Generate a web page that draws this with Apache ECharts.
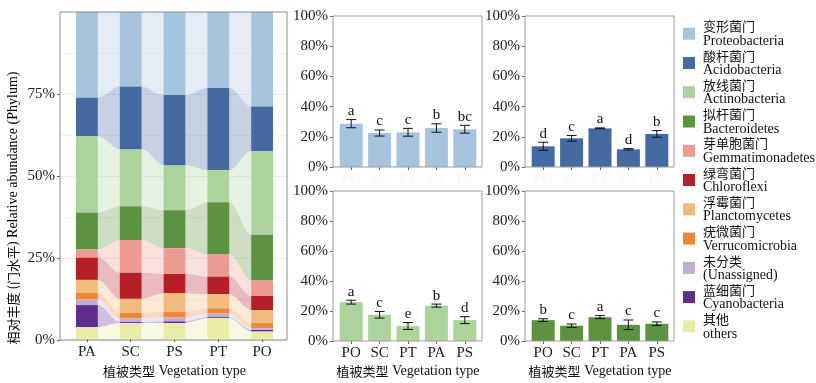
<!DOCTYPE html>
<html><head><meta charset="utf-8">
<script src="https://cdn.jsdelivr.net/npm/echarts@6/dist/echarts.min.js"></script>
<style>html,body{margin:0;padding:0;background:#fff}#c{width:816px;height:383px}</style>
</head><body><div id="c"></div>
<script>
// ---------- data ----------
const sites = ['PA', 'SC', 'PS', 'PT', 'PO'];
const phylaEN = ['Proteobacteria', 'Acidobacteria', 'Actinobacteria', 'Bacteroidetes', 'Gemmatimonadetes', 'Chloroflexi', 'Planctomycetes', 'Verrucomicrobia', '(Unassigned)', 'Cyanobacteria', 'others'];
const phylaCN = ['变形菌门', '酸杆菌门', '放线菌门', '拟杆菌门', '芽单胞菌门', '绿弯菌门', '浮霉菌门', '疣微菌门', '未分类', '蓝细菌门', '其他'];
const phylaColor = ['#a6c4de', '#436ba2', '#acd39c', '#5d9340', '#ec9b93', '#b71f27', '#f1bb7d', '#ee8636', '#c2aed5', '#5d2e8c', '#e8eca6'];

// relative abundance (%) per site, order PA, SC, PS, PT, PO
const proteobacteria   = [26.2, 22.8, 25.4, 23.2, 28.9];
const acidobacteria    = [11.8, 19.2, 21.5, 25.2, 13.6];
const actinobacteria   = [23.3, 17.4, 13.7,  9.8, 25.6];
const bacteroidetes    = [11.2, 10.3, 11.6, 15.9, 14.0];
const gemmatimonadetes = [ 2.6, 10.0,  7.9,  6.8,  4.7];
const chloroflexi      = [ 6.8,  8.0,  5.9,  5.4,  4.3];
const planctomycetes   = [ 4.0,  4.2,  5.7,  4.3,  4.0];
const verrucomicrobia  = [ 2.0,  1.8,  1.7,  1.5,  1.6];
const unassigned       = [ 1.7,  1.1,  1.2,  1.2,  0.5];
const cyanobacteria    = [ 6.7,  0.3,  0.5,  0.3,  0.5];
const others           = [ 3.7,  4.9,  4.9,  6.4,  2.3];
const phylaValues = [proteobacteria, acidobacteria, actinobacteria, bacteroidetes, gemmatimonadetes, chloroflexi, planctomycetes, verrucomicrobia, unassigned, cyanobacteria, others];

// small panels
const panelSites = ['PO', 'SC', 'PT', 'PA', 'PS'];
const proteoMean = [28.7, 22.5, 23.0, 25.8, 25.0];
const proteoErr  = [2.7, 2.0, 2.6, 2.8, 2.6];
const proteoSig  = ['a', 'c', 'c', 'b', 'bc'];
const acidoMean  = [13.7, 19.0, 25.6, 11.7, 21.9];
const acidoErr   = [2.7, 1.9, 0.3, 0.5, 2.2];
const acidoSig   = ['d', 'c', 'a', 'd', 'b'];
const actinoMean = [25.9, 17.5, 10.0, 23.6, 13.9];
const actinoErr  = [1.3, 2.2, 2.3, 1.0, 2.3];
const actinoSig  = ['a', 'c', 'e', 'b', 'd'];
const bacteroMean = [13.9, 10.2, 15.9, 10.8, 11.5];
const bacteroErr  = [0.9, 1.1, 1.0, 3.2, 1.2];
const bacteroSig  = ['b', 'c', 'a', 'c', 'c'];

const yTicksLeft = [0, 25, 50, 75];
const xTitleCN = '植被类型', xTitleEN = 'Vegetation type';
const yTitleCN1 = '相对丰度 (', yTitleCN2 = '门水平', yTitleEN = ') Relative abundance (Phylum)';

// ---------- styling ----------
const FONT = "'Liberation Serif','Times New Roman',serif";
const CJK = "'Noto Sans CJK SC','Noto Sans CJK JP',sans-serif";
const chart = echarts.init(document.getElementById('c'), null, {renderer: 'canvas'});

const nP = phylaEN.length, nS = sites.length;
const bottoms = [], tops = [];
for (let p = 0; p < nP; p++) { bottoms.push([]); tops.push([]); }
for (let s = 0; s < nS; s++) {
  let acc = 0;
  for (let p = nP - 1; p >= 0; p--) {
    bottoms[p][s] = acc;
    acc += phylaValues[p][s];
    tops[p][s] = acc;
  }
}

function makeAlluvialRender(color) {
  return function (params, api) {
    const i = api.value(0);
    const b = api.value(1), t = api.value(2), nb = api.value(3), nt = api.value(4);
    const band = api.size([1, 0])[0];
    const half = band * 0.25;
    const cx = api.coord([i, 0])[0];
    const yT = api.coord([i, t])[1], yB = api.coord([i, b])[1];
    const children = [{
      type: 'rect',
      shape: {x: cx - half, y: yT, width: 2 * half, height: yB - yT},
      style: {fill: color}
    }];
    if (i < nS - 1) {
      const x1 = cx + half;
      const x2 = api.coord([i + 1, 0])[0] - half;
      const ynT = api.coord([i + 1, nt])[1], ynB = api.coord([i + 1, nb])[1];
      const pts = [];
      const N = 30;
      for (let k = 0; k <= N; k++) {
        const s = k / N, e = s * s * (3 - 2 * s);
        pts.push([x1 + (x2 - x1) * s, yT + (ynT - yT) * e]);
      }
      for (let k = N; k >= 0; k--) {
        const s = k / N, e = s * s * (3 - 2 * s);
        pts.push([x1 + (x2 - x1) * s, yB + (ynB - yB) * e]);
      }
      children.push({type: 'polygon', shape: {points: pts}, style: {fill: color, opacity: 0.3}});
    }
    return {type: 'group', children: children};
  };
}

const series = [];
for (let p = 0; p < nP; p++) {
  const data = [];
  for (let s = 0; s < nS; s++) {
    const nx = Math.min(s + 1, nS - 1);
    data.push([s, bottoms[p][s], tops[p][s], bottoms[p][nx], tops[p][nx]]);
  }
  series.push({
    type: 'custom', name: phylaEN[p], xAxisIndex: 1, yAxisIndex: 1,
    itemStyle: {color: phylaColor[p]},
    renderItem: makeAlluvialRender(phylaColor[p]),
    encode: {x: 0, y: [1, 2]},
    data: data, silent: true
  });
}

function errRender(sig) {
  return function (params, api) {
    const i = api.value(0), m = api.value(1), e = api.value(2);
    const top = api.coord([i, m + e]), bot = api.coord([i, m - e]);
    const cap = 5;
    const st = {stroke: '#111', lineWidth: 1};
    return {type: 'group', children: [
      {type: 'line', shape: {x1: top[0], y1: top[1], x2: bot[0], y2: bot[1]}, style: st},
      {type: 'line', shape: {x1: top[0] - cap, y1: top[1], x2: top[0] + cap, y2: top[1]}, style: st},
      {type: 'line', shape: {x1: bot[0] - cap, y1: bot[1], x2: bot[0] + cap, y2: bot[1]}, style: st},
      {type: 'text', x: top[0], y: top[1] - 1, style: {text: sig[params.dataIndex], fill: '#111', font: '15px ' + FONT, textAlign: 'center', textVerticalAlign: 'bottom'}}
    ]};
  };
}

const titleRich = {
  cn: {fontFamily: CJK, fontSize: 13, color: '#111'},
  en: {fontFamily: FONT, fontSize: 14, color: '#111'}
};
const xTitleText = '{cn|' + xTitleCN + '} {en|' + xTitleEN + '}';

const grids = [
  {left: 60, top: 12, width: 227, height: 328, show: true, borderColor: '#8a8a8a', borderWidth: 1, backgroundColor: 'transparent', z: 10},
  {left: 65, top: 12, width: 219, height: 328}
];
const xAxes = [
  {gridIndex: 0, type: 'value', show: false, min: 0, max: 1},
  {gridIndex: 1, type: 'category', data: sites, axisLine: {show: false},
   axisTick: {show: true, alignWithLabel: true, length: 3, lineStyle: {color: '#666'}},
   axisLabel: {margin: 5, fontSize: 15, color: '#222', fontFamily: FONT},
   name: xTitleText, nameLocation: 'middle', nameGap: 23,
   nameTextStyle: {fontSize: 14, color: '#111', fontFamily: FONT, rich: titleRich}}
];
const yAxes = [
  {gridIndex: 0, type: 'value', min: 0, max: 100, interval: 25,
   axisLine: {show: false},
   axisTick: {show: true, length: 3, lineStyle: {color: '#666'}, customValues: yTicksLeft},
   axisLabel: {margin: 5, fontSize: 15, color: '#222', fontFamily: FONT, customValues: yTicksLeft, formatter: v => v + '%'},
   splitLine: {show: true, lineStyle: {color: '#ebebeb', width: 1}},
   minorTick: {show: false, splitNumber: 2},
   minorSplitLine: {show: true, lineStyle: {color: '#f2f2f2', width: 1}}},
  {gridIndex: 1, type: 'value', min: 0, max: 100, show: false}
];

const panels = [
  {left: 333, top: 16, h: 151, mean: proteoMean, err: proteoErr, sig: proteoSig, color: phylaColor[0], bottom: false},
  {left: 525, top: 16, h: 151, mean: acidoMean, err: acidoErr, sig: acidoSig, color: phylaColor[1], bottom: false},
  {left: 333, top: 191, h: 150, mean: actinoMean, err: actinoErr, sig: actinoSig, color: phylaColor[2], bottom: true},
  {left: 525, top: 191, h: 150, mean: bacteroMean, err: bacteroErr, sig: bacteroSig, color: phylaColor[3], bottom: true}
];
panels.forEach(function (pn) {
  const gF = grids.length;
  grids.push({left: pn.left, top: pn.top, width: 149, height: pn.h, show: true, borderColor: '#9a9a9a', borderWidth: 1, backgroundColor: 'transparent', z: 10});
  grids.push({left: pn.left + 4, top: pn.top, width: 142, height: pn.h});
  xAxes.push({gridIndex: gF, type: 'value', show: false, min: 0, max: 1});
  yAxes.push({gridIndex: gF, type: 'value', min: 0, max: 100, interval: 20,
    axisLine: {show: false}, splitLine: {show: false},
    axisTick: {show: true, length: 3, lineStyle: {color: '#666'}},
    axisLabel: {margin: 5, fontSize: 15, color: '#222', fontFamily: FONT, formatter: '{value}%'}});
  const xb = {gridIndex: gF + 1, type: 'category', data: panelSites, axisLine: {show: false},
    axisTick: {show: true, alignWithLabel: true, length: 3, lineStyle: {color: '#666'}},
    axisLabel: {margin: 5, fontSize: 15, color: pn.bottom ? '#222' : '#f7f7f7', fontFamily: FONT}};
  if (pn.bottom) {
    xb.name = xTitleText; xb.nameLocation = 'middle'; xb.nameGap = 23;
    xb.nameTextStyle = {fontSize: 14, color: '#111', fontFamily: FONT, rich: titleRich};
  }
  xAxes.push(xb);
  yAxes.push({gridIndex: gF + 1, type: 'value', min: 0, max: 100, show: false});
  const xi = xAxes.length - 1, yi = yAxes.length - 1;
  series.push({type: 'bar', xAxisIndex: xi, yAxisIndex: yi, data: pn.mean, barWidth: '81%',
    itemStyle: {color: pn.color}, silent: true});
  series.push({type: 'custom', xAxisIndex: xi, yAxisIndex: yi, silent: true, z: 5,
    renderItem: errRender(pn.sig), encode: {x: 0, y: 1},
    data: pn.mean.map((m, i) => [i, m, pn.err[i]])});
});

const option = {
  animation: false,
  backgroundColor: '#fff',
  grid: grids,
  xAxis: xAxes,
  yAxis: yAxes,
  legend: {
    orient: 'vertical', left: 683, top: 20, padding: 0, itemGap: 1.05,
    itemWidth: 12, itemHeight: 12, icon: 'rect', selectedMode: false,
    data: phylaEN,
    formatter: function (name) { return '{cn|' + phylaCN[phylaEN.indexOf(name)] + '}\n{en|' + name + '}'; },
    textStyle: {
      fontSize: 14, color: '#111', fontFamily: FONT, padding: [0, 0, 0, 3],
      rich: {
        cn: {fontFamily: CJK, fontSize: 13, lineHeight: 15, verticalAlign: 'bottom', color: '#111'},
        en: {fontFamily: FONT, fontSize: 14, lineHeight: 16.43, color: '#111'}
      }
    }
  },
  graphic: [{
    type: 'text', x: 13, y: 208, rotation: Math.PI / 2,
    style: {
      text: '{cn|' + yTitleCN1 + '}{cn|' + yTitleCN2 + '}{en|' + yTitleEN + '}',
      rich: titleRich, textAlign: 'center', textVerticalAlign: 'middle'
    }
  }],
  series: series
};
chart.setOption(option);
</script>
</body></html>
